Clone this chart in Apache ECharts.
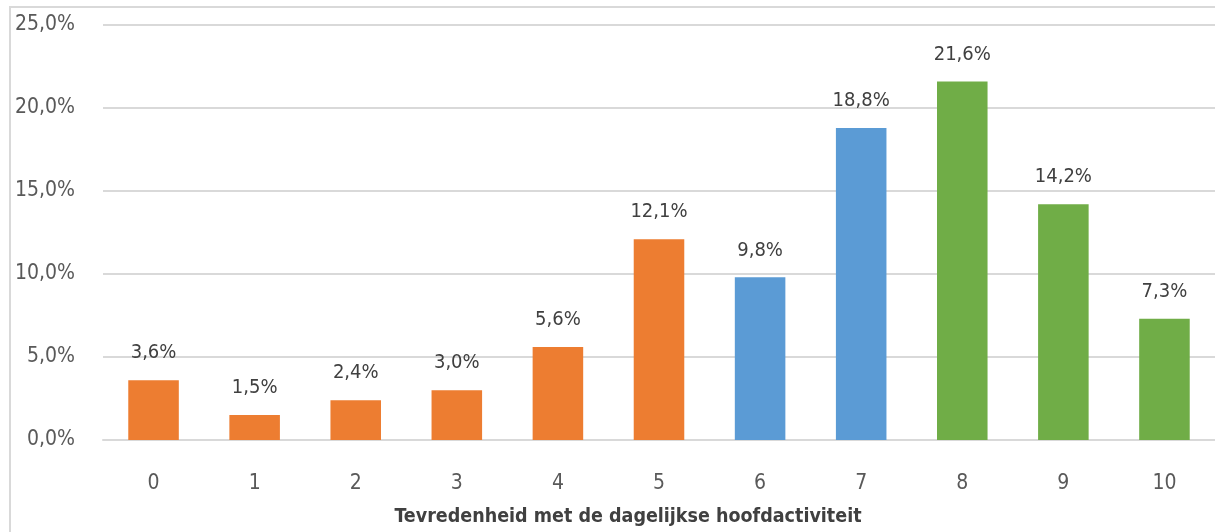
<!DOCTYPE html>
<html>
<head>
<meta charset="utf-8">
<script src="https://cdn.jsdelivr.net/npm/echarts@6/dist/echarts.min.js"></script>
<style>
  html, body { margin: 0; padding: 0; background: #fff; }
  #chart { width: 1215px; height: 532px; }
</style>
</head>
<body>
<div id="chart"></div>
<script>
const categories = ["0", "1", "2", "3", "4", "5", "6", "7", "8", "9", "10"];
const values = [3.6, 1.5, 2.4, 3.0, 5.6, 12.1, 9.8, 18.8, 21.6, 14.2, 7.3];
const barColors = [
  "#ED7D31", "#ED7D31", "#ED7D31", "#ED7D31", "#ED7D31", "#ED7D31",
  "#5B9BD5", "#5B9BD5",
  "#70AD47", "#70AD47", "#70AD47",
];
const yTicks = [0, 5, 10, 15, 20, 25];
const axisTitle = "Tevredenheid met de dagelijkse hoofdactiviteit";

const fontFamily = "'Liberation Sans Narrow', 'DejaVu Sans Condensed', 'Roboto', sans-serif";
const textColor = "#595959";

function fmtPct(v) {
  return v.toFixed(1).replace(".", ",") + "%";
}

const chart = echarts.init(document.getElementById("chart"), null, { renderer: "canvas" });

chart.setOption({
  animation: false,
  backgroundColor: "#fff",
  graphic: [
    {
      type: "rect",
      shape: { x: 10, y: 7, width: 1220, height: 540 },
      style: { fill: "none", stroke: "#d9d9d9", lineWidth: 2 },
      silent: true,
    },
  ],
  grid: { left: 103, right: -1, top: 25, bottom: 89 },
  xAxis: {
    type: "category",
    data: categories,
    axisLine: { show: true, lineStyle: { color: "#d9d9d9", width: 2 } },
    axisTick: { show: false },
    axisLabel: { color: textColor, fontSize: 21, fontFamily, margin: 33 },
    name: axisTitle,
    nameLocation: "middle",
    nameGap: 67,
    nameTextStyle: {
      color: "#404040",
      fontSize: 19.5,
      fontWeight: "bold",
      fontFamily,
      padding: [0, 62, 0, 0],
    },
  },
  yAxis: {
    type: "value",
    min: yTicks[0],
    max: yTicks[yTicks.length - 1],
    interval: 5,
    axisLine: { show: false },
    axisTick: { show: false },
    splitLine: { lineStyle: { color: "#d9d9d9", width: 2 } },
    axisLabel: {
      color: textColor,
      fontSize: 21,
      fontFamily,
      margin: 28,
      padding: [4, 0, 0, 0],
      formatter: (v) => fmtPct(v),
    },
  },
  series: [
    {
      type: "bar",
      barWidth: "50%",
      data: values.map((v, i) => ({ value: v, itemStyle: { color: barColors[i] } })),
      label: {
        show: true,
        position: "top",
        distance: 17,
        color: "#404040",
        fontSize: 20,
        fontFamily,
        formatter: (p) => fmtPct(p.value),
      },
    },
  ],
});
</script>
</body>
</html>
